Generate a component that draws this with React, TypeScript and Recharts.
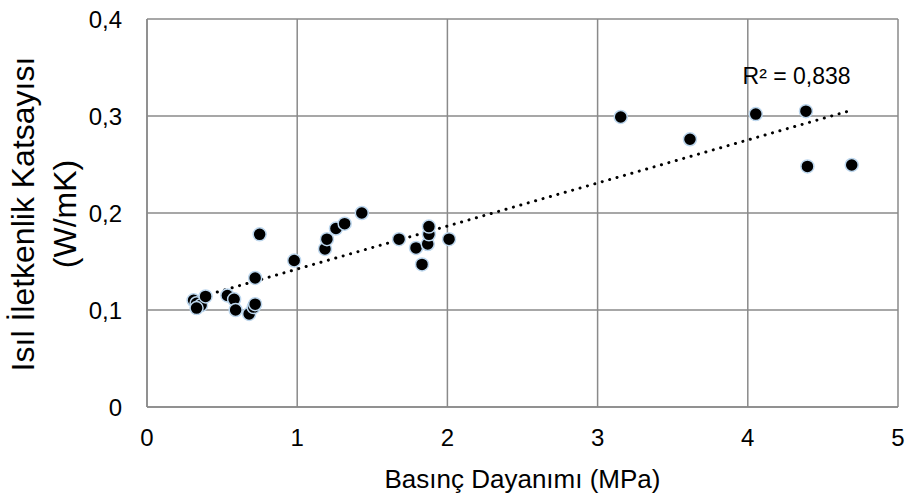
import {
  ScatterChart,
  Scatter,
  XAxis,
  YAxis,
  CartesianGrid,
  ReferenceLine,
  ReferenceDot,
  Label,
} from "recharts";

// Basınç dayanımı (MPa) vs ısıl iletkenlik (W/mK)
const strength = [
  0.31, 0.33, 0.36, 0.33, 0.39, 0.535, 0.58, 0.59, 0.68, 0.71, 0.72, 0.72,
  0.75, 0.98, 1.185, 1.198, 1.258, 1.316, 1.43, 1.678, 1.791, 1.831, 1.869,
  1.877, 1.877, 2.011, 3.154, 3.615, 4.053, 4.387, 4.397, 4.692,
];
const conductivity = [
  0.11, 0.107, 0.105, 0.102, 0.114, 0.115, 0.111, 0.1, 0.096, 0.103, 0.106,
  0.133, 0.178, 0.151, 0.163, 0.173, 0.184, 0.189, 0.2, 0.173, 0.164, 0.147,
  0.168, 0.178, 0.186, 0.173, 0.299, 0.276, 0.302, 0.305, 0.248, 0.2495,
];

// linear trendline end points (dotted)
const trendX = [0.32, 4.67];
const trendY = [0.112, 0.305];

const xTicks = [0, 1, 2, 3, 4, 5];
const yTicks = [0, 0.1, 0.2, 0.3, 0.4];

const points = strength.map((x, i) => ({ x, y: conductivity[i] }));

const FONT = "'Liberation Sans', Arial, sans-serif";
const GRID = "#8a8a8a";

const fmtY = (v: number) => (v === 0 ? "0" : v.toFixed(1).replace(".", ","));

function Dot(props: any) {
  const { cx, cy } = props;
  if (cx == null || cy == null) return null;
  return (
    <circle cx={cx} cy={cy} r={6.5} fill="#000" stroke="#bdd7ee" strokeWidth={1.5} />
  );
}

// two-line rotated y title; x is the baseline of each line
function YTitle(props: any) {
  const { viewBox } = props;
  const cy = viewBox.y + viewBox.height / 2 + 1;
  return (
    <g fontFamily={FONT} fontSize={32} fill="#000">
      <text transform={`translate(34 ${cy}) rotate(-90)`} textAnchor="middle">
        Isıl İletkenlik Katsayısı
      </text>
      <text transform={`translate(76 ${cy}) rotate(-90)`} textAnchor="middle">
        (W/mK)
      </text>
    </g>
  );
}

export default function App() {
  return (
    <div style={{ position: "absolute", left: 0, top: 0, background: "#fff" }}>
      <ScatterChart
        width={910}
        height={499}
        margin={{ top: 19, right: 12, bottom: 0, left: 0 }}
      >
        <CartesianGrid stroke={GRID} strokeWidth={1.5} fill="none" />
        <XAxis
          type="number"
          dataKey="x"
          domain={[0, 5]}
          ticks={xTicks}
          height={92}
          axisLine={{ stroke: GRID, strokeWidth: 1.5 }}
          tickLine={false}
          tickSize={0}
          tickMargin={22}
          tick={{ fontSize: 24, fontFamily: FONT, fill: "#000" }}
        >
          <Label
            value="Basınç Dayanımı (MPa)"
            position="insideBottom"
            offset={11}
            style={{ fontSize: 26, fontFamily: FONT, fill: "#000" }}
          />
        </XAxis>
        <YAxis
          type="number"
          dataKey="y"
          domain={[0, 0.4]}
          ticks={yTicks}
          width={147}
          axisLine={{ stroke: GRID, strokeWidth: 1.5 }}
          tickLine={false}
          tickSize={0}
          tickMargin={25}
          tickFormatter={fmtY}
          tick={{ fontSize: 24, fontFamily: FONT, fill: "#000" }}
        >
          <Label content={<YTitle />} />
        </YAxis>
        <ReferenceLine
          segment={[
            { x: trendX[0], y: trendY[0] },
            { x: trendX[1], y: trendY[1] },
          ]}
          stroke="#000"
          strokeWidth={3}
          strokeDasharray="0.1 7.6"
          strokeLinecap="round"
        />
        <Scatter data={points} shape={<Dot />} isAnimationActive={false} />
        <ReferenceDot
          x={4.325}
          y={0.341}
          r={0}
          fill="none"
          stroke="none"
          ifOverflow="visible"
          label={{
            value: "R² = 0,838",
            position: "center",
            fontSize: 23,
            fontFamily: FONT,
            fill: "#000",
          }}
        />
      </ScatterChart>
    </div>
  );
}
